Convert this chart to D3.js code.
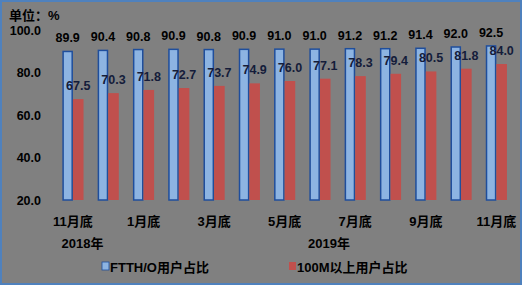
<!DOCTYPE html>
<html>
<head>
<meta charset="utf-8">
<script src="https://cdn.jsdelivr.net/npm/d3@7.9.0/dist/d3.min.js"></script>
<style>
  html, body { margin: 0; padding: 0; background: #808080; }
  svg { display: block; }
  text { font-family: "Liberation Sans", Arial, "Noto Sans CJK SC", sans-serif; font-weight: bold; }
</style>
</head>
<body>
<div id="chart"></div>
<script>
// chart data
const months = ['11月底', '12月底', '1月底', '2月底', '3月底', '4月底', '5月底',
                '6月底', '7月底', '8月底', '9月底', '10月底', '11月底'];
const shownTicks = [0, 2, 4, 6, 8, 10, 12];
const years = [
    { label: '2018年', from: 0, to: 1 },
    { label: '2019年', from: 2, to: 12 },
];
const ftth = [89.9, 90.4, 90.8, 90.9, 90.8, 90.9, 91.0, 91.0, 91.2, 91.2, 91.4, 92.0, 92.5];
const m100 = [67.5, 70.3, 71.8, 72.7, 73.7, 74.9, 76.0, 77.1, 78.3, 79.4, 80.5, 81.8, 84.0];
const seriesNames = ['FTTH/O用户占比', '100M以上用户占比'];
const yTicks = [20, 40, 60, 80, 100];

const width = 522;
const height = 285;

// small nudges to where the year labels sit in the original
const yearShift = [-8, 9];

const svg = d3.select('#chart')
    .append('svg')
    .attr('width', width)
    .attr('height', height);

// gray background + blue frame
svg.append('rect')
    .attr('x', 1).attr('y', 1)
    .attr('width', width - 2).attr('height', height - 2)
    .attr('fill', '#808080')
    .attr('stroke', '#4f81bd')
    .attr('stroke-width', 2);

const rows = months.map((m, i) => ({ i, month: m, ftth: ftth[i], m100: m100[i] }));

const x0 = d3.scaleBand()
    .domain(d3.range(months.length))
    .range([55.3, 514])
    .paddingInner(0.4)
    .paddingOuter(0.2);

const x1 = d3.scaleBand()
    .domain(['ftth', 'm100'])
    .range([0, x0.bandwidth()]);

const y = d3.scaleLinear()
    .domain([20, 100])
    .range([200, 30]);

const colors = { ftth: '#8db4e2', m100: '#c0504d' };

// unit label
svg.append('text')
    .attr('x', 9).attr('y', 20)
    .attr('font-size', 13)
    .attr('fill', '#000')
    .text('单位：%');

// y axis (labels only)
const yAxis = svg.append('g')
    .attr('transform', 'translate(41,0)')
    .call(d3.axisLeft(y).tickValues(yTicks).tickFormat(d3.format('.1f')).tickSize(0).tickPadding(0));
yAxis.select('.domain').remove();
yAxis.selectAll('text')
    .attr('font-size', 12.5)
    .attr('fill', '#000')
    .style('font-family', '"Liberation Sans", Arial, sans-serif')
    .style('font-weight', 'bold');

// bars
const groups = svg.append('g')
    .selectAll('g')
    .data(rows)
    .join('g')
    .attr('transform', (d) => `translate(${x0(d.i)},0)`);

groups.append('rect')
    .attr('x', x1('ftth') + 0.75)
    .attr('y', (d) => y(d.ftth))
    .attr('width', x1.bandwidth() - 1.5)
    .attr('height', (d) => y(20) - y(d.ftth))
    .attr('fill', colors.ftth)
    .attr('stroke', '#1f4e9c')
    .attr('stroke-width', 1.5);

groups.append('rect')
    .attr('x', x1('m100'))
    .attr('y', (d) => y(d.m100))
    .attr('width', x1.bandwidth())
    .attr('height', (d) => y(20) - y(d.m100))
    .attr('fill', colors.m100);

// value labels
groups.append('text')
    .attr('x', x1('ftth') + x1.bandwidth() / 2)
    .attr('y', (d) => y(d.ftth) - 9)
    .attr('text-anchor', 'middle')
    .attr('font-size', 12.5)
    .attr('fill', '#000')
    .text((d) => d.ftth.toFixed(1));

groups.append('text')
    .attr('x', x1('m100') + x1.bandwidth() / 2)
    .attr('y', (d) => y(d.m100) - 9)
    .attr('text-anchor', 'middle')
    .attr('font-size', 12.5)
    .attr('fill', '#141c3a')
    .text((d) => d.m100.toFixed(1));

// x axis labels
const xAxis = svg.append('g')
    .attr('transform', 'translate(0,200)')
    .call(d3.axisBottom(x0).tickValues(shownTicks).tickFormat((i) => months[i]).tickSize(0).tickPadding(17));
xAxis.select('.domain').remove();
xAxis.selectAll('text')
    .attr('font-size', 13)
    .attr('fill', '#000')
    .style('font-family', '"Liberation Sans", Arial, "Noto Sans CJK SC", sans-serif')
    .style('font-weight', 'bold');

// year labels
svg.append('g')
    .selectAll('text')
    .data(years)
    .join('text')
    .attr('x', (d, i) => (x0(d.from) + x0(d.to) + x0.bandwidth()) / 2 + yearShift[i])
    .attr('y', 248)
    .attr('text-anchor', 'middle')
    .attr('font-size', 13)
    .attr('fill', '#000')
    .text((d) => d.label);

// legend
const legendX = [102, 289];
const legend = svg.append('g')
    .selectAll('g')
    .data(['ftth', 'm100'])
    .join('g')
    .attr('transform', (d, i) => `translate(${legendX[i]},262)`);

legend.append('rect')
    .attr('width', 7).attr('height', 8)
    .attr('fill', (d) => colors[d])
    .attr('stroke', (d) => d === 'ftth' ? '#1f4e9c' : 'none')
    .attr('stroke-width', 0.8);

legend.append('text')
    .attr('x', 8)
    .attr('y', 9.5)
    .attr('font-size', 13)
    .attr('fill', '#000')
    .text((d, i) => seriesNames[i]);
</script>
</body>
</html>
